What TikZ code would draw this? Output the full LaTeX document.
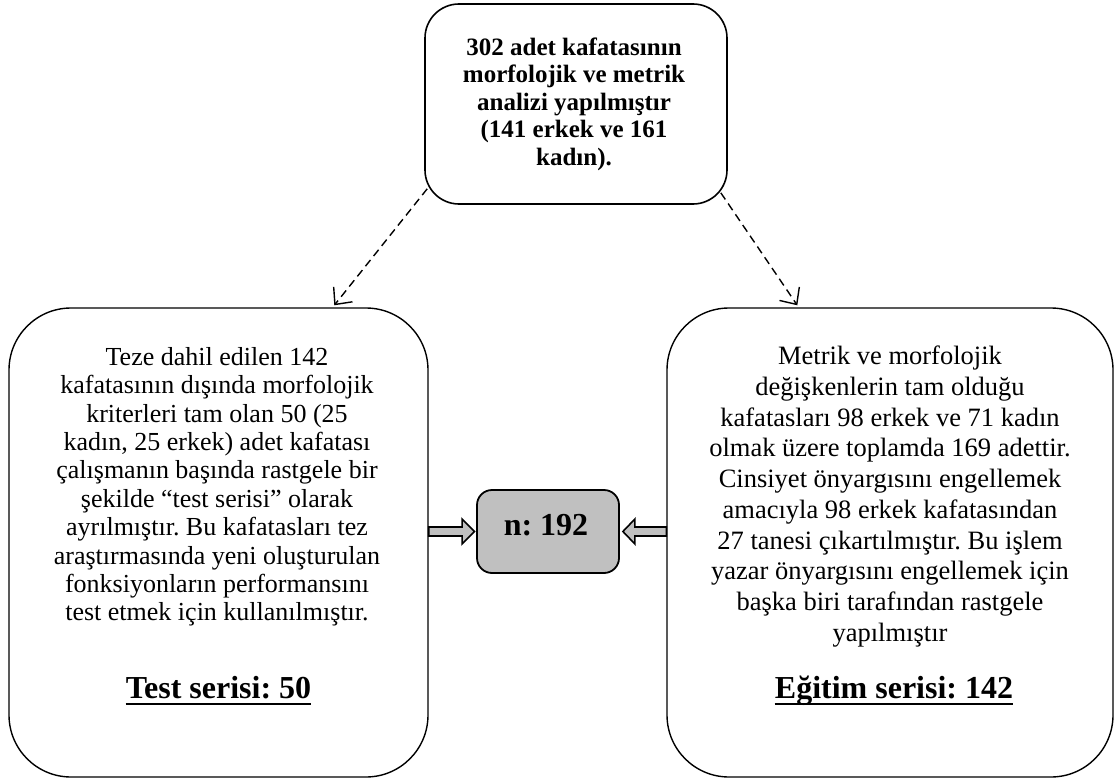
\documentclass[tikz,border=0pt]{standalone}
\usepackage{fontspec}
\setmainfont{Liberation Serif}
\usetikzlibrary{calc,arrows.meta}
\definecolor{boxgray}{HTML}{C0C0C0}
\frenchspacing
\begin{document}
\begin{tikzpicture}[x=1pt,y=-1pt,
  roundbox/.style={draw, line width=1.6pt, rounded corners=#1, inner sep=0pt},
  roundbox/.default=60pt,
  bodytext/.style={align=center, inner sep=0pt, anchor=north},
  titletext/.style={inner sep=0pt, anchor=base, font=\bfseries\fontsize{32}{36}\selectfont},
  underl/.style={line width=2.6pt},
  dasharrow/.style={line width=1.4pt, dash pattern=on 8pt off 5pt, -{Straight Barb[length=13pt,width=24pt,line width=1.4pt]}},
  blockarrow/.style={draw, line width=1.6pt, fill=boxgray, line join=miter}
]
\useasboundingbox (0,0) rectangle (1118,778);

% boxes
\node[roundbox=34pt, minimum width=302pt, minimum height=200pt] (T) at (576,104) {};
\node[roundbox=62pt, minimum width=419pt, minimum height=469pt, line width=1.4pt] (L) at (218.5,542.5) {};
\node[roundbox=62pt, minimum width=446pt, minimum height=469pt, line width=1.4pt] (R) at (890,542.5) {};
\node[roundbox=15pt, minimum width=142pt, minimum height=83pt, fill=boxgray, line width=1.8pt] (C) at (548,531.5) {};

% texts
\node[bodytext, font=\bfseries\fontsize{25}{27.5}\selectfont] (Ttext) at (574,37.5)
 {302 adet kafatasının\\ morfolojik ve metrik\\ analizi yapılmıştır\\ (141 erkek ve 161\\ kadın).};

\node[bodytext, font=\fontsize{26}{28.4}\selectfont] (Ltext) at (217,347)
 {Teze dahil edilen 142\\
  kafatasının dışında morfolojik\\
  kriterleri tam olan 50 (25\\
  kadın, 25 erkek) adet kafatası\\
  çalışmanın başında rastgele bir\\
  şekilde “test serisi” olarak\\
  ayrılmıştır. Bu kafatasları tez\\
  araştırmasında yeni oluşturulan\\
  fonksiyonların performansını\\
  test etmek için kullanılmıştır.};

\node[bodytext, font=\fontsize{26.5}{30.7}\selectfont] (Rtext) at (890,346)
 {Metrik ve morfolojik\\
  değişkenlerin tam olduğu\\
  kafatasları 98 erkek ve 71 kadın\\
  olmak üzere toplamda 169 adettir.\\
  Cinsiyet önyargısını engellemek\\
  amacıyla 98 erkek kafatasından\\
  27 tanesi çıkartılmıştır. Bu işlem\\
  yazar önyargısını engellemek için\\
  başka biri tarafından rastgele\\
  yapılmıştır};

\node[titletext] (Ltitle) at (218.5,698) {Test serisi: 50};
\node[titletext] (Rtitle) at (894,698) {Eğitim serisi: 142};
\draw[underl] ($(Ltitle.base west)+(0,6)$) -- ($(Ltitle.base east)+(0,6)$);
\draw[underl] ($(Rtitle.base west)+(0,6)$) -- ($(Rtitle.base east)+(0,6)$);

\node[inner sep=0pt, anchor=base, font=\bfseries\fontsize{32}{36}\selectfont] (Ctext) at (546,535) {n: 192};

% dashed connectors
\draw[dasharrow] ($(T.south west)+(3,-16)$) -- ($(L.north west)+(326,-2)$);
\draw[dasharrow] ($(T.south east)+(-7,-12)$) -- ($(R.north west)+(131,-2)$);

% block arrows
\coordinate (la0) at (L.east |- C.west);
\filldraw[blockarrow] ($(la0)+(0,-4.5)$) -- ($(C.west)+(-14,-4.5)$) -- ($(C.west)+(-14,-12.5)$)
  -- ($(C.west)+(-1.5,0)$) -- ($(C.west)+(-14,12.5)$) -- ($(C.west)+(-14,4.5)$) -- ($(la0)+(0,4.5)$) -- cycle;
\coordinate (ra0) at (R.west |- C.east);
\filldraw[blockarrow] ($(ra0)+(0,-4.5)$) -- ($(C.east)+(15,-4.5)$) -- ($(C.east)+(15,-12.5)$)
  -- ($(C.east)+(3,0)$) -- ($(C.east)+(15,12.5)$) -- ($(C.east)+(15,4.5)$) -- ($(ra0)+(0,4.5)$) -- cycle;
\end{tikzpicture}
\end{document}
